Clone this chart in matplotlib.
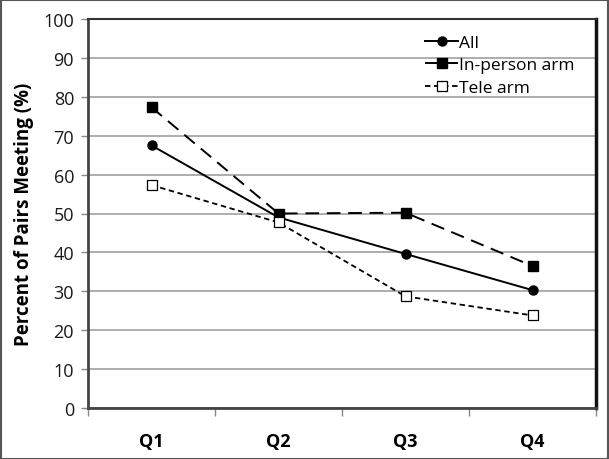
import matplotlib
matplotlib.use("Agg")
import matplotlib.pyplot as plt

categories = ["Q1", "Q2", "Q3", "Q4"]
all_vals = [67.5, 49.0, 39.6, 30.3]
inperson_vals = [77.3, 50.0, 50.2, 36.5]
tele_vals = [57.3, 47.7, 28.7, 23.8]
yticks = [0, 10, 20, 30, 40, 50, 60, 70, 80, 90, 100]

plt.rcParams['font.family'] = ['Open Sans', 'DejaVu Sans']

fig = plt.figure(figsize=(6.09, 4.6), dpi=100)
ax = fig.add_axes([88/609, 1-409/460, (596-88)/609, (409-20)/460])

x = list(range(len(categories)))
ax.plot(x, all_vals, color='black', lw=1.4, marker='o', ms=6.5, label='All')
ax.plot(x, inperson_vals, color='black', lw=1.4, ls=(0, (7, 4)), marker='s', ms=7,
        label='In-person arm')
ax.plot(x, tele_vals, color='black', lw=1.3, ls=(0, (3, 2)), marker='s', ms=7,
        mfc='white', mec='black', mew=0.9, label='Tele arm')

ax.set_xlim(-0.5, 3.5)
ax.set_ylim(0, 100)
ax.set_yticks(yticks)
ax.set_yticklabels([str(v) for v in yticks], fontsize=13, color='#1a1a1a')
ax.yaxis.grid(True, color='#a0a0a0', lw=1.2)
ax.set_axisbelow(True)
ax.tick_params(axis='y', length=5, color='#888888', width=1, pad=5)

ax.set_xticks([-0.5, 0.5, 1.5, 2.5, 3.5])
ax.set_xticklabels([])
ax.set_xticks(x, minor=True)
ax.set_xticklabels(categories, minor=True, fontsize=13, fontweight='bold')
ax.tick_params(axis='x', which='major', length=6, color='#888888', width=1)
ax.tick_params(axis='x', which='minor', length=0, pad=17)

for s in ['left', 'bottom']:
    ax.spines[s].set_color('#444444')
    ax.spines[s].set_linewidth(2)
ax.spines['top'].set_color('#333333')
ax.spines['top'].set_linewidth(1.5)
ax.spines['right'].set_color('#111111')
ax.spines['right'].set_linewidth(2.5)

ax.set_ylabel('Percent of Pairs Meeting (%)', fontsize=13.5, fontweight='bold', labelpad=7)

leg = ax.legend(loc='upper left', bbox_to_anchor=(0.664, 0.96), frameon=False,
                fontsize=12.5, handlelength=1.9, handletextpad=0.05, labelspacing=0.38,
                borderaxespad=0, borderpad=0)

fig.patches.append(plt.Rectangle((0.001, 0.001), 0.998, 0.997, transform=fig.transFigure,
                                 fill=False, edgecolor='#555555', lw=1.5))

fig.savefig('out.png', dpi=100)
